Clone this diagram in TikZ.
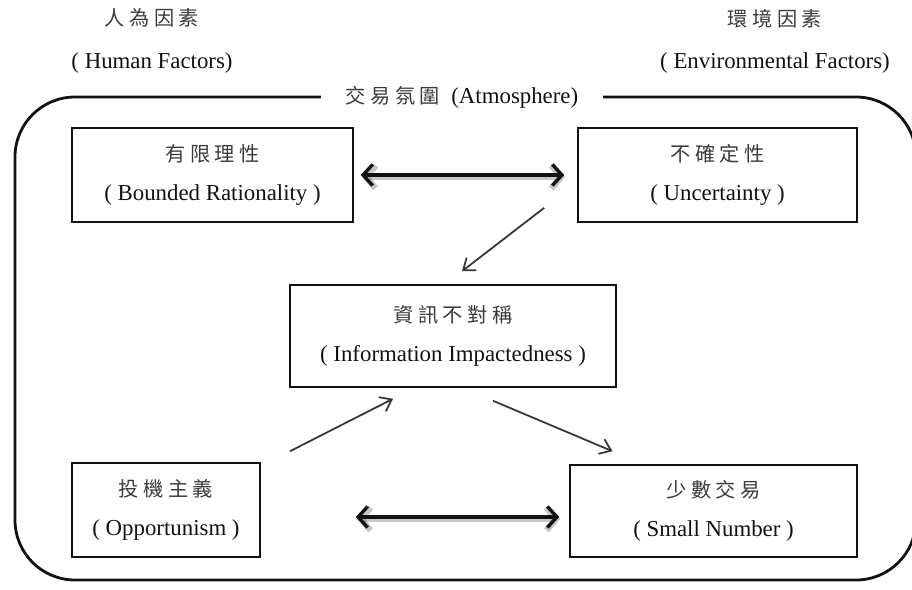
\documentclass[tikz,border=0pt]{standalone}
\usepackage{fontspec}
\setmainfont{Liberation Serif}
\newfontfamily\cjk[LetterSpace=22]{Noto Sans CJK TC}
\usetikzlibrary{arrows.meta}
\newcommand{\zh}[1]{{\cjk\fontsize{11.5}{12}\selectfont\color{zhgray}#1}}
\definecolor{zhgray}{HTML}{3A3A3A}
\definecolor{ink}{HTML}{111111}

\begin{document}
\begin{tikzpicture}[x=0.02cm,y=-0.02cm,
  every node/.style={font=\fontsize{13}{21}\selectfont, text=ink, inner sep=0pt},
  factorbox/.style={draw=ink, line width=0.9pt, align=center},
  link/.style={draw=ink!85, line width=1pt, -{Straight Barb[length=6pt,width=9pt]}},
  twoway/.style={draw=ink, line width=1.9pt,
    {Straight Barb[length=5.5pt,width=12pt]}-{Straight Barb[length=5.5pt,width=12pt]}},
  twowayshade/.style={draw=black, opacity=0.22, line width=3.6pt,
    {Straight Barb[length=5.5pt,width=13pt]}-{Straight Barb[length=5.5pt,width=13pt]}},
]
\useasboundingbox (0,0) rectangle (912,589);

% outer frame of the transaction atmosphere
\draw[draw=ink, line width=1.6pt, rounded corners=1.2cm] (15,97) rectangle (916,580);
\node[fill=white, inner xsep=14pt, inner ysep=3pt] (atm) at (462,97) {\zh{交易氛圍}\ \ (Atmosphere)};

% factor headings
\node[align=center] (human) at (152,41) {\zh{人為因素}\\[3pt]( Human Factors)};
\node[align=center] (env) at (775,41) {\zh{環境因素}\\[3pt]( Environmental Factors)};

% factor boxes
\node[factorbox, minimum width=5.62cm, minimum height=1.88cm] (br) at (212.5,175)
  {\zh{有限理性}\\[1pt]( Bounded Rationality )};
\node[factorbox, minimum width=5.58cm, minimum height=1.88cm] (unc) at (717.5,175)
  {\zh{不確定性}\\[1pt]( Uncertainty )};
\node[factorbox, minimum width=6.52cm, minimum height=2.04cm] (info) at (453,336)
  {\zh{資訊不對稱}\\[1pt]( Information Impactedness )};
\node[factorbox, minimum width=3.76cm, minimum height=1.88cm] (opp) at (166,510)
  {\zh{投機主義}\\[1pt]( Opportunism )};
\node[factorbox, minimum width=5.74cm, minimum height=1.84cm] (small) at (713.5,511)
  {\zh{少數交易}\\[1pt]( Small Number )};

% two-way relations
\path (br.east) ++(7,0) coordinate (bra);
\path (unc.west) ++(-13,0) coordinate (unca);
\path (opp.east) ++(95,7) coordinate (oppa);
\path (small.west) ++(-10,6) coordinate (smalla);
\draw[twowayshade] ([shift={(1,2)}]bra) -- ([shift={(1,2)}]unca);
\draw[twoway] (bra) -- (unca);
\draw[twowayshade] ([shift={(1,2)}]oppa) -- ([shift={(1,2)}]smalla);
\draw[twoway] (oppa) -- (smalla);

% one-way relations
\draw[link] ([shift={(-33,-15)}]unc.south west) -- ([shift={(9,-13)}]info.north);
\draw[link] ([shift={(124,-11)}]opp.north) -- ([shift={(-60,11)}]info.south);
\draw[link] ([shift={(40,13)}]info.south) -- ([shift={(-101,-13)}]small.north);
\end{tikzpicture}
\end{document}
